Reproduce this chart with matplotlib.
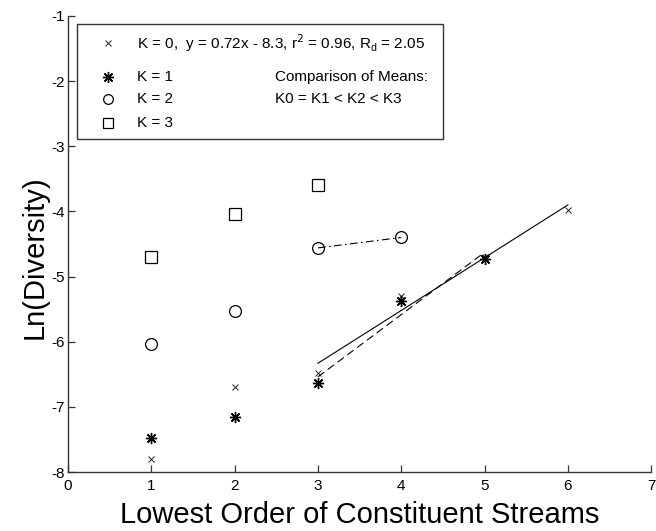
import matplotlib.pyplot as plt
import numpy as np
from matplotlib.patches import Rectangle

plt.rcParams['font.family'] = ['Liberation Sans', 'DejaVu Sans']
plt.rcParams['axes.unicode_minus'] = False

### Data: ln(diversity) against lowest stream order, one series per K ###
orders_k0 = [1, 2, 3, 4, 5, 6]
div_k0 = [-7.80, -6.70, -6.48, -5.30, -4.70, -3.98]

orders_k1 = [1, 2, 3, 4, 5]
div_k1 = [-7.48, -7.16, -6.64, -5.38, -4.73]

orders_k2 = [1, 2, 3, 4]
div_k2 = [-6.04, -5.53, -4.56, -4.40]

orders_k3 = [1, 2, 3]
div_k3 = [-4.70, -4.04, -3.60]

xticks = [0, 1, 2, 3, 4, 5, 6, 7]
yticks = [-8, -7, -6, -5, -4, -3, -2, -1]

# asterisk like the MATLAB '*' marker
star = (8, 2, 0)
lw = 0.8

fig = plt.figure(figsize=(6.56, 5.31), dpi=100)
ax = fig.add_axes([0.1037, 0.111, 0.889, 0.859])

ax.plot(orders_k0, div_k0, 'x', color='#222222', ms=5, mew=0.7)
ax.plot(orders_k1, div_k1, ls='none', marker=star, color='black', ms=8, mew=1.0)
ax.plot(orders_k2, div_k2, 'o', mfc='none', mec='black', ms=8.5, mew=0.9)
ax.plot(orders_k3, div_k3, 's', mfc='none', mec='black', ms=8.5, mew=0.9)

# regression lines over the upper orders
x0 = np.array(orders_k0[2:])
p0 = np.polyfit(x0, div_k0[2:], 1)
ax.plot(x0, np.polyval(p0, x0), '-', color='black', lw=lw)

x1 = np.array(orders_k1[2:])
p1 = np.polyfit(x1, div_k1[2:], 1)
ax.plot(x1, np.polyval(p1, x1), color='black', lw=lw, dashes=(7, 4))

ax.plot(orders_k2[2:], div_k2[2:], color='black', lw=lw, dashes=(7, 3, 1.5, 3))

ax.set_xlim(0, 7)
ax.set_ylim(-8, -1)
ax.set_xticks(xticks)
ax.set_yticks(yticks)
ax.spines['top'].set_visible(False)
ax.spines['right'].set_visible(False)
for s in ['left', 'bottom']:
    ax.spines[s].set_linewidth(1.0)
    ax.spines[s].set_color('#333333')
ax.tick_params(direction='in', length=5, width=0.9, labelsize=11,
               color='#333333')
ax.tick_params(axis='x', pad=5)
ax.tick_params(axis='y', pad=2)

ax.set_xlabel('Lowest Order of Constituent Streams', fontsize=21)
ax.set_ylabel('Ln(Diversity)', fontsize=21)
ax.xaxis.set_label_coords(0.5, -0.063)
ax.yaxis.set_label_coords(-0.033, 0.47)

### Key box drawn in axes coordinates ###
tr = ax.transAxes
kx = lambda px: (px - 68) / (0.889 * 656)
ax.add_patch(Rectangle((kx(77), 0.730), kx(443) - kx(77), 0.252, transform=tr,
                       fill=False, ec='#333333', lw=1.0, zorder=5))
rows = [0.941, 0.866, 0.818, 0.765]
mx, tx, cx = kx(108), kx(137), kx(275)
ax.plot(mx, rows[0], 'x', color='#222222', ms=5, mew=0.7, transform=tr, clip_on=False)
ax.plot(mx, rows[1], ls='none', marker=star, color='black', ms=8, mew=1.0,
        transform=tr, clip_on=False)
ax.plot(mx, rows[2], 'o', mfc='none', mec='black', ms=7, mew=0.9,
        transform=tr, clip_on=False)
ax.plot(mx, rows[3], 's', mfc='none', mec='black', ms=7, mew=0.9,
        transform=tr, clip_on=False)

fs = 11
ax.text(tx, rows[0], r'K = 0,  y = 0.72x - 8.3, r$^2$ = 0.96, R$_\mathregular{d}$ = 2.05',
        transform=tr, fontsize=fs, va='center')
ax.text(tx, rows[1], 'K = 1', transform=tr, fontsize=fs, va='center')
ax.text(tx, rows[2], 'K = 2', transform=tr, fontsize=fs, va='center')
ax.text(tx, rows[3], 'K = 3', transform=tr, fontsize=fs, va='center')
ax.text(cx, rows[1], 'Comparison of Means:', transform=tr, fontsize=fs, va='center')
ax.text(cx, rows[2], 'K0 = K1 < K2 < K3', transform=tr, fontsize=fs, va='center')

plt.savefig('out.png', dpi=100)
